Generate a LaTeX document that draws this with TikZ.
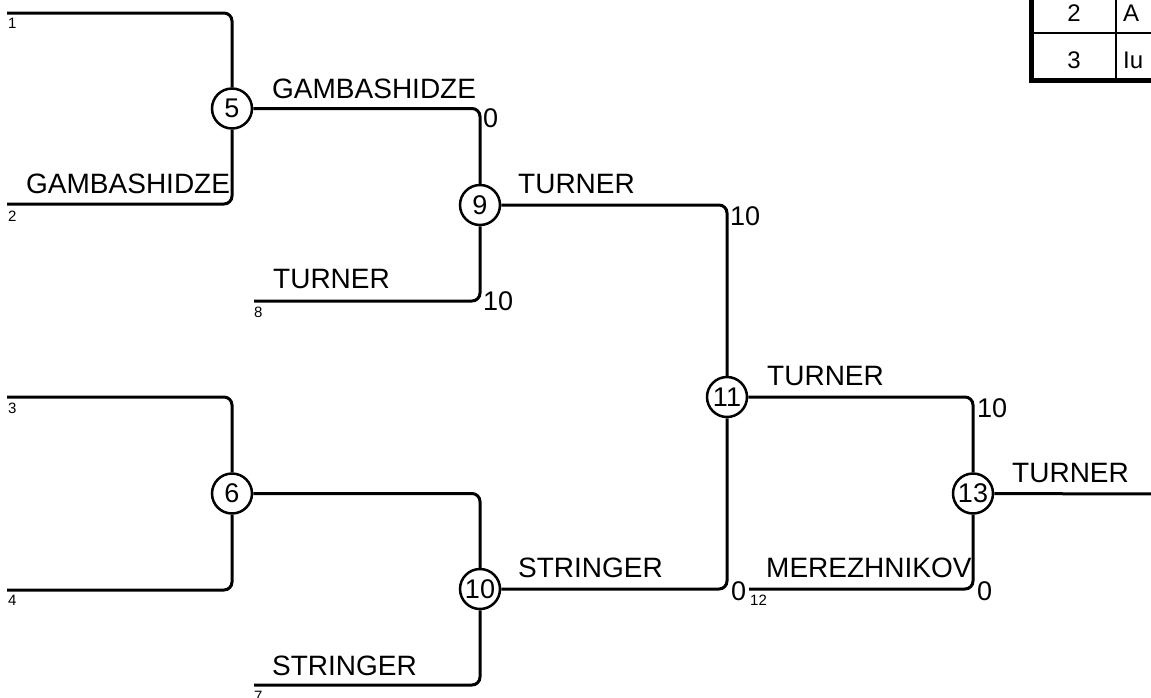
\documentclass[tikz,border=0pt]{standalone}
\usepackage{fontspec}
\setmainfont{Liberation Sans}
\begin{document}
\begin{tikzpicture}[x=1pt,y=-1pt,
  br/.style={line width=3pt, rounded corners=8pt},
  seed/.style={circle, draw, line width=2.5pt, minimum size=40pt, inner sep=0pt, fill=white, font=\fontsize{27}{27}\selectfont},
  nm/.style={anchor=base west, font=\fontsize{28}{30}\selectfont, inner sep=0pt},
  sc/.style={anchor=base west, font=\fontsize{27}{29}\selectfont, inner sep=0pt},
  sm/.style={anchor=base west, font=\fontsize{15}{16}\selectfont, inner sep=0pt},
  cell/.style={anchor=base, font=\fontsize{24}{26}\selectfont, inner sep=0pt},
  celltxt/.style={anchor=base west, font=\fontsize{24}{26}\selectfont, inner sep=0pt},
]
\useasboundingbox (0,0) rectangle (1151,697);
\clip (0,0) rectangle (1151,697);
% free ends
\coordinate (s1) at (7,13);
\coordinate (s2) at (7,204);
\coordinate (s3) at (7,397);
\coordinate (s4) at (7,590);
\coordinate (s8) at (254,301);
\coordinate (s7) at (254,685);
\coordinate (s12) at (749,589);
\coordinate (fin) at (1160,494);
% match nodes
\node[seed] (n5) at (232,108.5) {5};
\node[seed] (n6) at (232,493.5) {6};
\node[seed] (n9) at (480,205) {9};
\node[seed] (n10) at (480,589) {10};
\node[seed] (n11) at (727,397) {11};
\node[seed] (n13) at (973,493.5) {13};
% connectors
\draw[br] (s1) -| (n5);
\draw[br] (s2) -| (n5);
\draw[br] (n5) -| (n9);
\draw[br] (s8) -| (n9);
\draw[br] (s3) -| (n6);
\draw[br] (s4) -| (n6);
\draw[br] (n6) -| (n10);
\draw[br] (s7) -| (n10);
\draw[br] (n9) -| (n11);
\draw[br] (n10) -| (n11);
\draw[br] (n11) -| (n13);
\draw[br] (s12) -| (n13);
\draw[br] (n13) -- (fin);
% seed numbers
\node[sm] (l1) at (8,28) {1};
\node[sm] (l2) at (8,221) {2};
\node[sm] (l3) at (8,413) {3};
\node[sm] (l4) at (8,605) {4};
\node[sm] (l8) at (254,317) {8};
\node[sm] (l7) at (254,701) {7};
\node[sm] (l12) at (750,605) {12};
% names
\node[nm] (t2) at (26,193) {GAMBASHIDZE};
\node[nm] (t5) at (272,98) {GAMBASHIDZE};
\node[nm] (t8) at (273,288) {TURNER};
\node[nm] (t9) at (518,193) {TURNER};
\node[nm] (t7) at (272,675) {STRINGER};
\node[nm] (t10) at (518,577) {STRINGER};
\node[nm] (t11) at (767,385) {TURNER};
\node[nm] (t12) at (766,577) {MEREZHNIKOV};
\node[nm] (t13) at (1012,482) {TURNER};
% scores
\node[sc] (c5) at (483,127) {0};
\node[sc] (c8) at (483,310) {10};
\node[sc] (c9) at (730,225) {10};
\node[sc] (c10) at (731,600) {0};
\node[sc] (c11) at (977,417) {10};
\node[sc] (c12) at (977,600) {0};
% table
\draw[line width=2.5pt] (1032,33) -- (1160,33);
\draw[line width=2.5pt] (1116,-20) -- (1116,81);
\draw[line width=5pt] (1031.5,-20) -- (1031.5,80.5) -- (1160,80.5);
\node[cell] (r2) at (1074,21) {2};
\node[cell] (r3) at (1074,68) {3};
\node[celltxt] (r2n) at (1123,21) {A};
\node[celltxt] (r3n) at (1123,68) {Iu};
\end{tikzpicture}
\end{document}
